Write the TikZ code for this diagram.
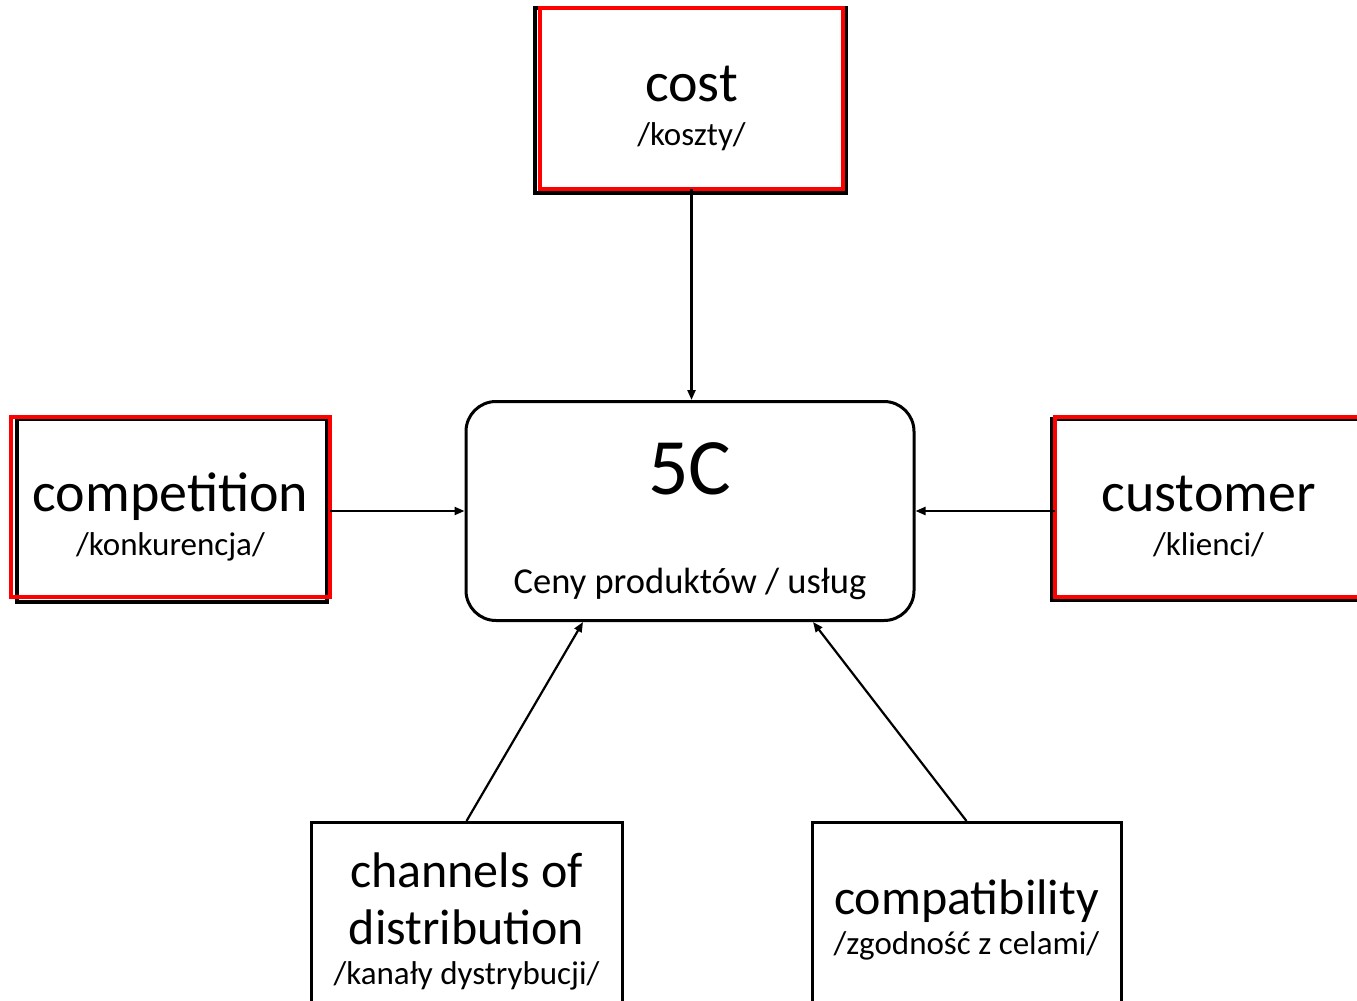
\documentclass[tikz,border=0pt]{standalone}
\usepackage{fontspec}
\setmainfont{Carlito}
\usetikzlibrary{arrows.meta,backgrounds}

\newcommand\bigtxt{\fontsize{56}{57}\selectfont}
\newcommand\midtxt{\fontsize{50}{57}\selectfont}
\newcommand\subtxt{\fontsize{33}{44}\selectfont}

\begin{document}
\begin{tikzpicture}[x=1pt,y=-1pt,
    redbox/.style={draw=red,line width=4pt,inner sep=0pt,outer sep=0pt,align=center,font=\subtxt},
    blackbox/.style={draw,line width=3pt,inner sep=0pt,align=center,font=\subtxt},
    frame/.style={draw,line width=3.5pt},
    feed/.style={-{Triangle[length=10pt,width=8pt]},line width=2.2pt}]
\useasboundingbox (0,0) rectangle (1357,1001);
\clip (0,0) rectangle (1357,1001);

% the middle box
\node [blackbox,rounded corners=30pt,minimum width=448pt,
       text height=192pt,text depth=27pt] (sc) at (690,400)
      [anchor=north] {{\fontsize{80}{80}\selectfont 5C}\\[55pt]{\fontsize{36.5}{44}\selectfont Ceny produktów / usług}};

% the five C
\node [redbox,minimum width=303pt,text height=137pt,text depth=44pt,anchor=north]
      (cost) at (691.5,8) {{\bigtxt cost}\\/koszty/};
\node [redbox,minimum width=319pt,text height=138pt,text depth=42pt,anchor=north]
      (comp) at (170.5,417) {{\bigtxt competition}\\/konkurencja/};
\node [redbox,minimum width=307pt,text height=138pt,text depth=42pt,anchor=north]
      (cust) at (1208.5,417) {{\bigtxt customer}\\/klienci/};
\node [blackbox,minimum width=311pt,text height=162pt,text depth=117pt,anchor=north]
      (chan) at (466.5,821) {{\midtxt channels of}\\[13pt]{\midtxt distribution}\\[-4pt]/kanały dystrybucji/};
\node [blackbox,minimum width=309pt,text height=132pt,text depth=147pt,anchor=north]
      (compat) at (966.5,821) {{\midtxt compatibility}\\[-4pt]/zgodność z celami/};

% black frames behind the red ones
\begin{scope}[on background layer]
\draw [frame] ([xshift=-5pt]cost.north west) rectangle ([xshift=3pt,yshift=-4pt]cost.south east);
\draw [frame] ([xshift=6pt,yshift=-2pt]comp.north west) rectangle ([xshift=-3pt,yshift=-5pt]comp.south east);
\draw [frame] ([xshift=-3pt,yshift=-2pt]cust.north west) rectangle ([yshift=-3pt]cust.south east);
\end{scope}

\coordinate (compout) at ([yshift=-4pt]comp.east);
\coordinate (custout) at ([yshift=-4pt]cust.west);

\draw [feed] (cost.south) -- (cost.south |- sc.north);
\draw [feed] (compout) -- (sc.west |- compout);
\draw [feed] (custout) -- (sc.east |- custout);
\draw [feed] (chan.north) -- ([xshift=-107pt]sc.south);
\draw [feed] (compat.north) -- ([xshift=123pt]sc.south);
\end{tikzpicture}
\end{document}
